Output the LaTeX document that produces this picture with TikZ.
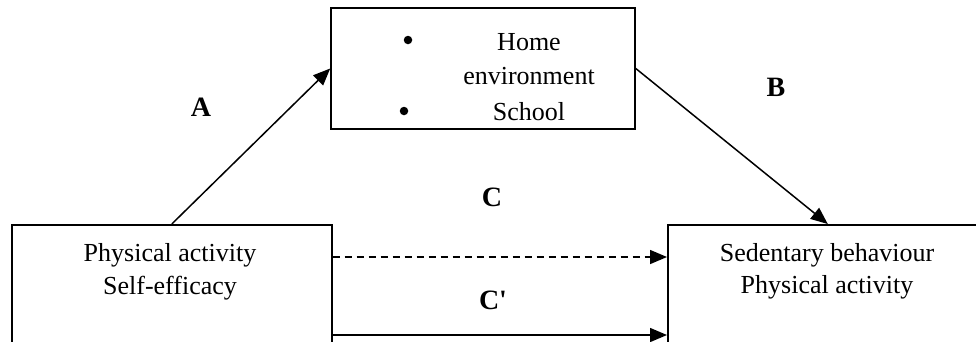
\documentclass[tikz,border=0pt]{standalone}
\usepackage{fontspec}
\setmainfont{Liberation Serif}
\usetikzlibrary{arrows.meta,calc}
\begin{document}
\begin{tikzpicture}[x=1pt,y=-1pt,
  box/.style={draw,line width=1.6pt,minimum width=320pt,inner sep=0pt},
  txt/.style={font=\fontsize{26}{30}\selectfont,inner sep=0pt,anchor=base},
  dot/.style={circle,fill,minimum size=8.5pt,inner sep=0pt},
  lab/.style={font=\fontsize{28}{30}\selectfont\bfseries,inner sep=0pt},
  arr/.style={line width=1.5pt,-{Triangle[length=17pt,width=14pt]}}]
\useasboundingbox (0,0) rectangle (976,341);
\clip (0,0) rectangle (976,341);
\node[box,minimum width=304pt,minimum height=121pt] (he) at (483,68.5) {};
\node[box,minimum height=140pt,anchor=north west] (pa) at (11,224) {};
\node[box,minimum height=140pt,anchor=north west] (sb) at (667,224) {};
\node[dot] (b1) at (408,40) {};
\node[txt] (t1) at (529,50) {Home};
\node[txt] (t2) at (529,84) {environment};
\node[dot] (b2) at (404,111) {};
\node[txt] (t3) at (529,120) {School};
\node[txt] (p1) at (170,261) {Physical activity};
\node[txt] (p2) at (170,294) {Self-efficacy};
\node[txt] (s1) at (827,261) {Sedentary behaviour};
\node[txt] (s2) at (827,293) {Physical activity};
\node[lab] (la) at (201,107.5) {A};
\node[lab] (lb) at (776,87) {B};
\node[lab] (lc) at (492,197.5) {C};
\node[lab] (lcp) at (493,300) {C\textquotesingle};
\draw[arr] (pa.north) -- (he.west);
\draw[arr] (he.east) -- (sb.north);
\coordinate (d1) at ($(pa.north east)+(0,33)$);
\coordinate (e1) at ($(pa.north east)+(0,111)$);
\draw[arr,dash pattern=on 7pt off 5pt] (d1) -- (d1 -| sb.west);
\draw[arr] (e1) -- (e1 -| sb.west);
\end{tikzpicture}
\end{document}
